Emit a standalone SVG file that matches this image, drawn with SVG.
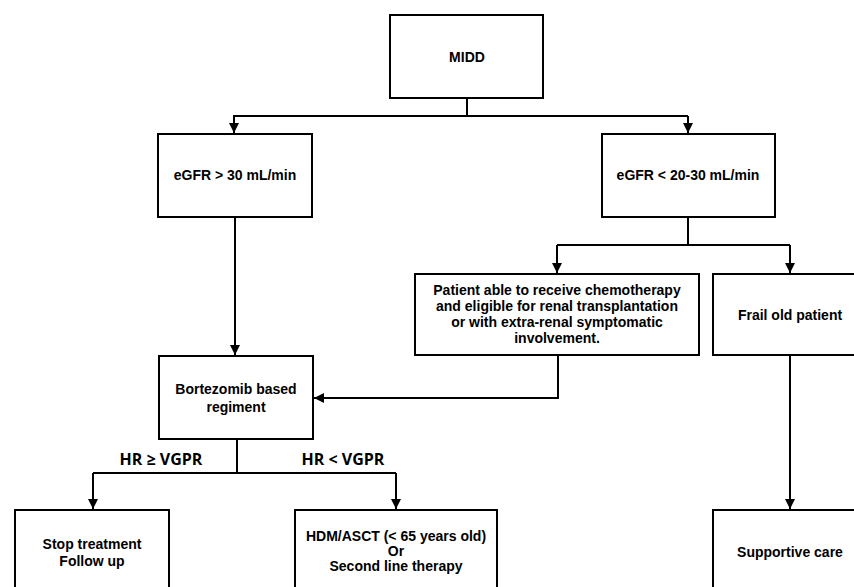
<svg xmlns="http://www.w3.org/2000/svg" width="854" height="587" viewBox="0 0 854 587">
<defs>
<marker id="ah" viewBox="0 0 10 10" refX="10" refY="5" markerWidth="5" markerHeight="5" orient="auto" markerUnits="strokeWidth">
<path d="M0,0 L10,5 L0,10 z" fill="#000"/>
</marker>
<style>
.box{fill:#fff;stroke:#000;stroke-width:2}
.t{font-family:"Liberation Sans",Arial,sans-serif;font-weight:bold;font-size:14px;fill:#000;text-anchor:middle;dominant-baseline:central}
.lbl{font-family:"Open Sans","Liberation Sans",sans-serif;font-weight:bold;font-size:16px;fill:#000;text-anchor:middle;dominant-baseline:central}
.c{fill:none;stroke:#000;stroke-width:2}
</style>
</defs>
<rect width="854" height="587" fill="#fff"/>
<g id="connectors">
<path class="c" d="M467,98 V116"/>
<path class="c" d="M233,116 H688"/>
<path class="c" d="M234,116 V133" marker-end="url(#ah)"/>
<path class="c" d="M688,116 V133" marker-end="url(#ah)"/>
<path class="c" d="M235,217 V355" marker-end="url(#ah)"/>
<path class="c" d="M688,217 V245"/>
<path class="c" d="M557,245 H790"/>
<path class="c" d="M557,245 V273" marker-end="url(#ah)"/>
<path class="c" d="M790,245 V273" marker-end="url(#ah)"/>
<path class="c" d="M558,355 V398 H314" marker-end="url(#ah)"/>
<path class="c" d="M237,439 V473"/>
<path class="c" d="M93,473 H396"/>
<path class="c" d="M93,473 V509" marker-end="url(#ah)"/>
<path class="c" d="M396,473 V509" marker-end="url(#ah)"/>
<path class="c" d="M790,355 V509" marker-end="url(#ah)"/>
<text class="lbl" x="161" y="459">HR ≥ VGPR</text>
<text class="lbl" x="343" y="459">HR &lt; VGPR</text>
</g>
<g id="midd">
<rect class="box" x="390" y="15" width="153" height="83"/>
<text class="t" x="467" y="57">MIDD</text>
</g>
<g id="egfr-high">
<rect class="box" x="158" y="134" width="154" height="83"/>
<text class="t" x="235" y="175">eGFR &gt; 30 mL/min</text>
</g>
<g id="egfr-low">
<rect class="box" x="602" y="134" width="173" height="83"/>
<text class="t" x="688" y="175">eGFR &lt; 20-30 mL/min</text>
</g>
<g id="patient-able">
<rect class="box" x="415" y="274" width="284" height="81"/>
<text class="t" x="557" y="290">Patient able to receive chemotherapy</text>
<text class="t" x="557" y="306">and eligible for renal transplantation</text>
<text class="t" x="557" y="322">or with extra-renal symptomatic</text>
<text class="t" x="557" y="338">involvement.</text>
</g>
<g id="frail">
<rect class="box" x="713" y="274" width="160" height="81"/>
<text class="t" x="790" y="315">Frail old patient</text>
</g>
<g id="bortezomib">
<rect class="box" x="159" y="356" width="154" height="83"/>
<text class="t" x="236" y="389">Bortezomib based</text>
<text class="t" x="236" y="407">regiment</text>
</g>
<g id="stop">
<rect class="box" x="15" y="510" width="154" height="90"/>
<text class="t" x="92" y="544">Stop treatment</text>
<text class="t" x="92" y="561">Follow up</text>
</g>
<g id="hdm">
<rect class="box" x="295" y="510" width="202" height="90"/>
<text class="t" x="396" y="536">HDM/ASCT (&lt; 65 years old)</text>
<text class="t" x="396" y="551">Or</text>
<text class="t" x="396" y="566">Second line therapy</text>
</g>
<g id="supportive">
<rect class="box" x="713" y="510" width="160" height="90"/>
<text class="t" x="790" y="552">Supportive care</text>
</g>
</svg>
